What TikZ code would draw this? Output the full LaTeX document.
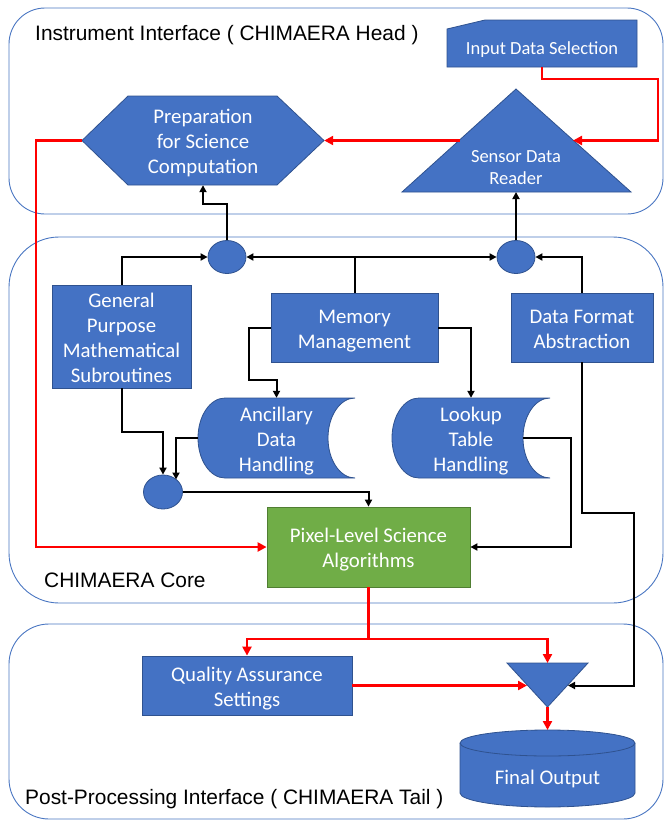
\documentclass[tikz,border=0pt]{standalone}
\usepackage{fontspec}
\setmainfont{Carlito}
\newfontfamily\lblfont{Liberation Sans}
\usetikzlibrary{arrows.meta,shapes.geometric}
\definecolor{boxblue}{HTML}{4472C4}
\definecolor{boxedge}{HTML}{2F528F}
\definecolor{boxgreen}{HTML}{70AD47}
\definecolor{greenedge}{HTML}{507E32}
\definecolor{panelline}{HTML}{4A76C2}
\definecolor{flowred}{HTML}{FF0000}
\newcommand\sdshape[4]{% x-left, x-right, y-top, y-bottom
  \path[shapefill] ({#1+27},#3) -- (#2,#3)
    .. controls ({#2-14.9},#3) and ({#2-27},{(#3+#4)/2-22.1}) .. ({#2-27},{(#3+#4)/2})
    .. controls ({#2-27},{(#3+#4)/2+22.1}) and ({#2-14.9},#4) .. (#2,#4)
    -- ({#1+27},#4)
    .. controls ({#1+12.1},#4) and (#1,{(#3+#4)/2+22.1}) .. (#1,{(#3+#4)/2})
    .. controls (#1,{(#3+#4)/2-22.1}) and ({#1+12.1},#3) .. ({#1+27},#3) -- cycle;}
\newcommand\btext[1]{\raisebox{-3pt}[\height][\depth]{\begin{tabular}{@{}c@{}}#1\end{tabular}}}
\begin{document}
\begin{tikzpicture}[x=1pt,y=-1pt,
  panel/.style={draw=panelline, line width=0.9pt},
  shapefill/.style={fill=boxblue, draw=boxedge, line width=0.8pt},
  boxtxt/.style={text=white, align=center, font=\fontsize{20.8}{25}\selectfont, inner sep=0pt},
  smalltxt/.style={text=white, align=center, font=\fontsize{18.5}{22}\selectfont, inner sep=0pt},
  dot/.style={shapefill, ellipse, minimum width=38pt, minimum height=33pt, inner sep=0pt},
  blk/.style={draw=black, line width=2pt, -{Triangle[length=7pt,width=7pt]}},
  redflow/.style={draw=flowred, line width=2.6pt, -{Triangle[length=9pt,width=9pt]}},
  lbl/.style={font=\lblfont\fontsize{20.9}{25}\selectfont, inner sep=0pt, anchor=base west, text=black},
]
\useasboundingbox (0,0) rectangle (664,822);
% panels
\draw[panel, rounded corners=36pt] (9,8) rectangle (663,214);
\draw[panel, rounded corners=50pt] (9,237) rectangle (663,603);
\draw[panel, rounded corners=40pt] (9,624) rectangle (663,819);
\node[lbl] (headlbl) at (35,40) {Instrument Interface ( CHIMAERA Head )};
\node[lbl] (corelbl) at (44,587) {CHIMAERA Core};
\node[lbl] (taillbl) at (25,804) {Post-Processing Interface ( CHIMAERA Tail )};

% head shapes
\path[shapefill] (447,29) -- (485,20) -- (637,20) -- (637,67) -- (447,67) -- cycle;
\node[smalltxt] (ids) at (542,49.5) {Input Data Selection};
\coordinate (idsS) at (542,67);

\path[shapefill] (516,89) -- (631,192) -- (402,192) -- cycle;
\node[smalltxt] (sdr) at (516,168) {Sensor Data\\Reader};
\coordinate (sdrW) at (459.5,140.5);
\coordinate (sdrE) at (573,140.5);
\coordinate (sdrS) at (516,192);

\path[shapefill] (82,140.5) -- (128,96) -- (277,96) -- (324,140.5) -- (277,185) -- (128,185) -- cycle;
\node[boxtxt, minimum width=242pt, minimum height=89pt] (prep) at (203,140.5) {\btext{Preparation\\for Science\\Computation}};

% core shapes
\node[dot] (c1) at (227,257) {};
\node[dot] (c2) at (516,257) {};
\node[dot, minimum width=39pt, minimum height=34pt] (c3) at (163,492) {};
\coordinate (c3ne) at (176,479.5);

\node[shapefill, boxtxt, minimum width=139pt, minimum height=103pt] (gpms) at (121.5,336.5) {\btext{General\\Purpose\\Mathematical\\Subroutines}};
\node[shapefill, boxtxt, minimum width=167pt, minimum height=69pt] (mm) at (354.5,327.5) {\btext{Memory\\Management}};
\node[shapefill, boxtxt, minimum width=142pt, minimum height=69pt] (dfa) at (582,327.5) {\btext{Data Format\\Abstraction}};

\sdshape{198}{355}{398}{478}
\node[boxtxt, minimum width=157pt, minimum height=80pt] (anc) at (276.5,438) {\btext{Ancillary\\Data\\Handling}};
\sdshape{392}{550}{398}{478}
\node[boxtxt, minimum width=158pt, minimum height=80pt] (lut) at (471,438) {\btext{Lookup\\Table\\Handling}};
\coordinate (lutE) at (523,438);

\node[fill=boxgreen, draw=greenedge, line width=0.8pt, boxtxt, minimum width=203pt, minimum height=80pt] (pix) at (368.5,547) {\btext{Pixel-Level Science\\Algorithms}};

% tail shapes
\node[shapefill, boxtxt, minimum width=210pt, minimum height=59pt] (qa) at (247,685.5) {\btext{Quality Assurance\\Settings}};
\path[shapefill] (507,663) -- (588,663) -- (547.5,707) -- cycle;
\coordinate (otN) at (547.5,663);
\coordinate (otW) at (527,685.5);
\coordinate (otE) at (568,685.5);
\coordinate (otS) at (547.5,707);

\path[fill=boxblue] (460,743) rectangle (635,793);
\path[shapefill] (460,743) -- (460,793)
  .. controls (460,800.7) and (499.2,807) .. (547.5,807)
  .. controls (595.8,807) and (635,800.7) .. (635,793) -- (635,743);
\path[shapefill] (547.5,743) ellipse [x radius=87.5pt, y radius=13pt];
\node[boxtxt] (fo) at (547.5,779) {Final Output};
\coordinate (cylN) at (547.5,730);

% red flow
\draw[redflow] (idsS) -- (542,79) -| (658,140.5) -- (sdrE);
\draw[redflow] (sdrW) -- (prep.east);
\draw[redflow] (prep.west) -- (36,140.5) |- (pix.west);
\coordinate (split) at (368.5,639);
\draw[redflow] (pix.south) -- (split) -| (qa.north);
\draw[redflow] (split) -| (otN);
\draw[redflow] (qa.east) -- (otW);
\draw[redflow] (otS) -- (cylN);

% black connectors
\draw[blk] (c1.north) |- (203,204) -- (prep.south);
\draw[blk] (c2.north) -- (sdrS);
\draw[blk] (gpms.north) |- (c1.west);
\draw[blk] (mm.north) |- (c1.east);
\draw[blk] (mm.north) |- (c2.west);
\draw[blk] (dfa.north) |- (c2.east);
\draw[blk] (mm.west) -- (249,327.5) |- (276.5,380) -- (anc.north);
\draw[blk] (mm.east) -| (lut.north);
\draw[blk] (gpms.south) -- (121.5,432) -| (c3.north);
\draw[blk] (anc.west) -| (c3ne);
\draw[blk] (c3.east) -| (pix.north);
\draw[blk] (lutE) -- (571,438) |- (pix.east);
\draw[blk] (dfa.south) |- (634,513) |- (otE);
\end{tikzpicture}
\end{document}
